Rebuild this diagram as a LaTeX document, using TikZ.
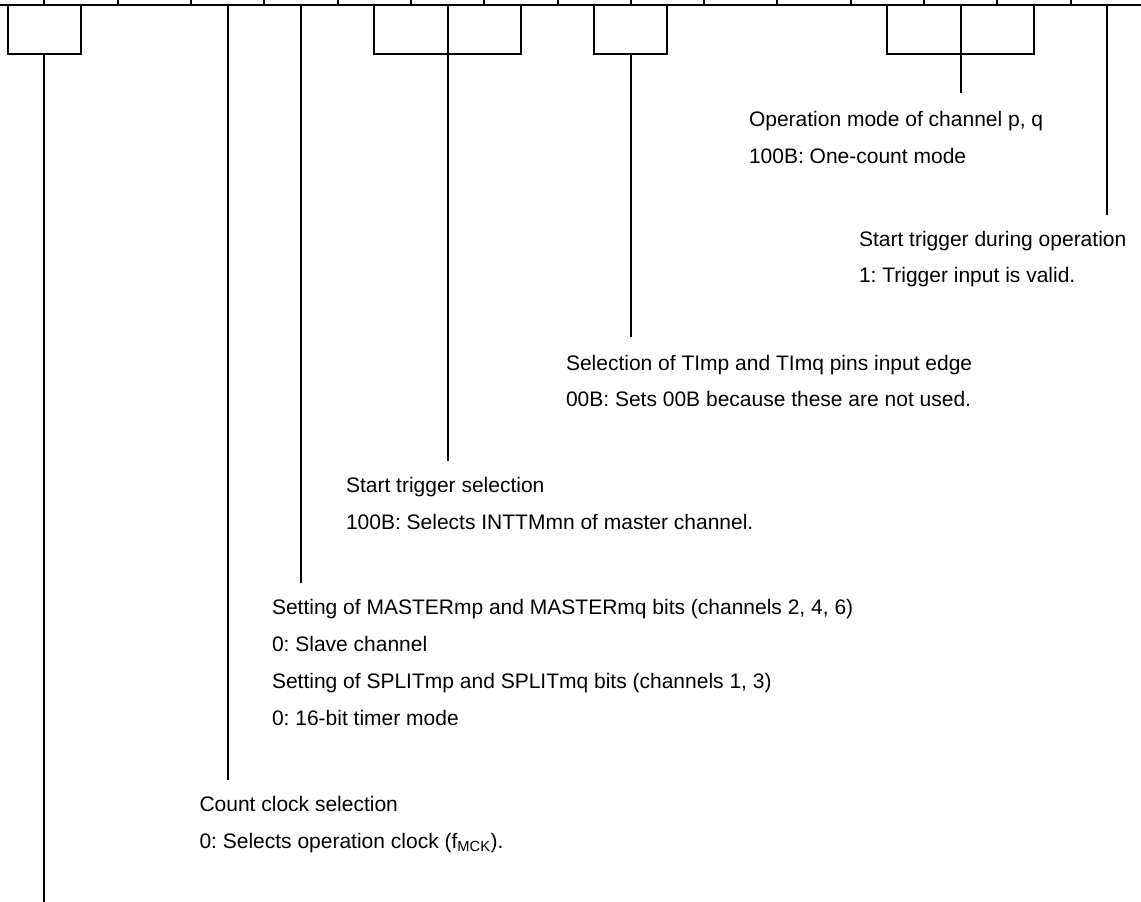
\documentclass[tikz,border=0pt]{standalone}
\usepackage{fontspec}
\setmainfont{Liberation Sans}
\frenchspacing
\begin{document}
\begin{tikzpicture}[x=1pt,y=-1pt,line width=2pt,
  lbl/.style={anchor=base west,inner sep=0pt,font=\fontsize{21}{25}\selectfont\frenchspacing}]
\useasboundingbox (0,0) rectangle (1141,902);
% register line and bit boundaries
\coordinate (L) at (0,5);
\coordinate (R) at (1141,5);
\draw (L) -- (R);
\foreach \k in {0,...,14} {
  \coordinate (tt\k) at ({44.4+73.3*\k},0);
  \coordinate (tb\k) at ({44.4+73.3*\k},5);
  \draw (tt\k) -- (tb\k);
}
% bits 15-14
\coordinate (a1) at (7.75,5);   \coordinate (a2) at (7.75,54);
\coordinate (a3) at (81.05,54); \coordinate (a4) at (81.05,5);
\draw (a1) -- (a2) -- (a3) -- (a4);
\coordinate (as) at (44.4,54); \coordinate (ae) at (44.4,902);
\draw (as) -- (ae);
% bit 12
\coordinate (bs) at (227.65,5); \coordinate (be) at (227.65,780);
\draw (bs) -- (be);
% bit 11
\coordinate (cs) at (300.95,5); \coordinate (ce) at (300.95,583.3);
\draw (cs) -- (ce);
% bits 10-8
\coordinate (d1) at (374.25,5);   \coordinate (d2) at (374.25,54);
\coordinate (d3) at (520.85,54);  \coordinate (d4) at (520.85,5);
\draw (d1) -- (d2) -- (d3) -- (d4);
\coordinate (dt) at (447.55,5); \coordinate (de) at (447.55,460.7);
\draw (dt) -- (de);
% bits 7-6
\coordinate (e1) at (594.15,5);   \coordinate (e2) at (594.15,54);
\coordinate (e3) at (667.45,54);  \coordinate (e4) at (667.45,5);
\draw (e1) -- (e2) -- (e3) -- (e4);
\coordinate (es) at (630.8,54); \coordinate (ee) at (630.8,336.7);
\draw (es) -- (ee);
% bits 3-1
\coordinate (f1) at (887.35,5);   \coordinate (f2) at (887.35,54);
\coordinate (f3) at (1033.95,54); \coordinate (f4) at (1033.95,5);
\draw (f1) -- (f2) -- (f3) -- (f4);
\coordinate (ft) at (960.65,5); \coordinate (fe) at (960.65,92.7);
\draw (ft) -- (fe);
% bit 0
\coordinate (gs) at (1107.25,5); \coordinate (ge) at (1107.25,215);
\draw (gs) -- (ge);
% labels
\node[lbl] (t13a) at (748,126.7) {Operation mode of channel p, q};
\node[lbl] (t13b) at (748,163.3) {100B: One-count mode};
\node[lbl] (t15a) at (858,246) {Start trigger during operation};
\node[lbl] (t15b) at (858,282.7) {1: Trigger input is valid.};
\node[lbl] (t8a) at (565,370) {Selection of TImp and TImq pins input edge};
\node[lbl] (t8b) at (565,406.7) {00B: Sets 00B because these are not used.};
\node[lbl] (t6a) at (345,492.3) {Start trigger selection};
\node[lbl] (t6b) at (345,529) {100B: Selects INTTMmn of master channel.};
\node[lbl] (t4a) at (271,614) {Setting of MASTERmp and MASTERmq bits (channels 2, 4, 6)};
\node[lbl] (t4b) at (271,651) {0: Slave channel};
\node[lbl] (t4c) at (271,688) {Setting of SPLITmp and SPLITmq bits (channels 1, 3)};
\node[lbl] (t4d) at (271,725) {0: 16-bit timer mode};
\node[lbl] (t3a) at (198.5,811.7) {Count clock selection};
\node[lbl] (t3b) at (198.5,848.3) {0: Selects operation clock (f\textsubscript{MCK}).};
\end{tikzpicture}
\end{document}
